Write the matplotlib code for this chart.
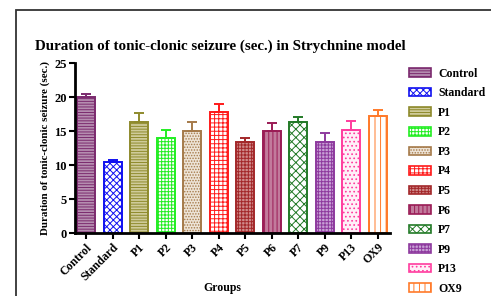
import matplotlib
matplotlib.use("Agg")
import matplotlib.pyplot as plt
from matplotlib.patches import Rectangle, Patch
import matplotlib as mpl

groups = ["Control", "Standard", "P1", "P2", "P3", "P4", "P5", "P6", "P7", "P9", "P13", "OX9"]
values = [20.0, 10.4, 16.3, 13.9, 15.0, 17.8, 13.4, 15.0, 16.3, 13.4, 15.1, 17.2]
errors = [0.4, 0.3, 1.3, 1.2, 1.3, 1.1, 0.5, 1.2, 0.8, 1.3, 1.3, 0.9]
colors = ["#7B2A6E", "#1010F0", "#8E8A2C", "#22EE22", "#A57A4A", "#FF1A1A",
          "#A3282A", "#9A1B55", "#237A27", "#8E3A9E", "#FF3C9E", "#FF7A2A"]
faces = ["#B58DB0", "#FFFFFF", "#CFCB9A", "#FFFFFF", "#EDE3D6", "#FFFFFF",
         "#D08A8A", "#C27A9C", "#FFFFFF", "#C8A0D6", "#FFF0F8", "#FFFFFF"]
hatches = ["------", "xxxxx", "------", "+++++", "......", "++++", "+++++", "||||", "xxxx", "+++++", "....", "|||"]
yticks = [0, 5, 10, 15, 20, 25]

mpl.rcParams["font.family"] = ["Liberation Serif", "DejaVu Serif"]
mpl.rcParams["font.weight"] = "bold"
mpl.rcParams["hatch.linewidth"] = 0.7

W, H = 491, 296
fig = plt.figure(figsize=(W / 100, H / 100), dpi=100)
fig.patch.set_facecolor("white")

# outer frame
fig.patches.append(Rectangle((16 / W, -0.2), 1.2, (H - 10) / H + 0.2, transform=fig.transFigure,
                             fill=False, edgecolor="#333333", linewidth=1.3))

ax = fig.add_axes([75 / W, 1 - 233 / H, (390 - 75) / W, (233 - 63) / H])
x = list(range(len(groups)))
for i in x:
    mpl.rcParams["hatch.color"] = colors[i]
    ax.bar(i, values[i], width=0.68, color=faces[i], edgecolor=colors[i], hatch=hatches[i],
           linewidth=1.4, zorder=2)
    ax.errorbar(i, values[i], yerr=[[0], [errors[i]]], ecolor=colors[i], elinewidth=1.4,
                capsize=3.5, capthick=1.4, fmt="none", zorder=3)

ax.set_xlim(-0.42, 11.47)
ax.set_ylim(0, 25)
ax.set_yticks(yticks)
ax.set_yticklabels([str(t) for t in yticks], fontsize=9, fontweight="bold")
ax.set_xticks(x)
ax.set_xticklabels(groups, rotation=45, ha="right", rotation_mode="anchor", fontsize=8.5, fontweight="bold")
ax.spines["top"].set_visible(False)
ax.spines["right"].set_visible(False)
ax.spines["left"].set_linewidth(2)
ax.spines["bottom"].set_linewidth(2)
ax.tick_params(axis="both", width=1.5, length=4, direction="out", pad=2)
ax.set_ylabel("Duration of tonic-clonic seizure (sec.)", fontsize=7.9, fontweight="bold", labelpad=3)

fig.text(222 / W, 1 - 288 / H, "Groups", fontsize=8.5, fontweight="bold", va="center", ha="center")
fig.text(35 / W, 1 - 46 / H, "Duration of tonic-clonic seizure (sec.) in Strychnine model",
         fontsize=10.8, fontweight="bold", va="center", ha="left")

handles = []
for i in x:
    mpl.rcParams["hatch.color"] = colors[i]
    handles.append(Patch(facecolor=faces[i], edgecolor=colors[i], hatch=hatches[i], linewidth=1.2,
                         label=groups[i]))
leg = fig.legend(handles=handles, loc="upper left", bbox_to_anchor=(404 / W, 1 - 63 / H),
                 frameon=False, fontsize=8.5, handlelength=1.9, handleheight=0.75,
                 labelspacing=0.64, handletextpad=0.6, borderaxespad=0)
for t in leg.get_texts():
    t.set_fontweight("bold")

fig.savefig("out.png", dpi=100)
